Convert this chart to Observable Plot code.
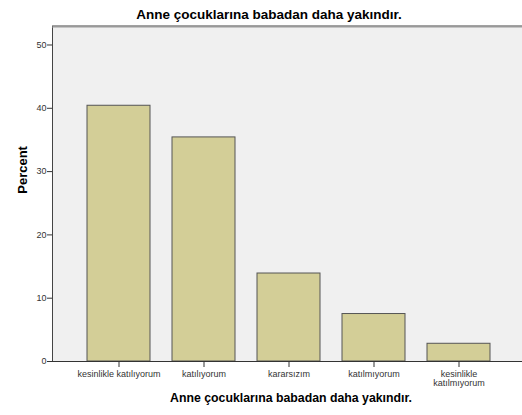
<!DOCTYPE html>
<html>
<head>
<meta charset="utf-8">
<script src="https://cdn.jsdelivr.net/npm/d3@7"></script>
<script src="https://cdn.jsdelivr.net/npm/@observablehq/plot@0.6"></script>
<style>
  body { margin: 0; background: #fff; font-family: Arial, "Liberation Sans", sans-serif; }
  #wrap { position: relative; width: 522px; height: 415px; overflow: hidden; }
  #title { position: absolute; left: 0; top: 0; width: 538px; text-align: center;
           font: bold 13.5px Arial, "Liberation Sans", sans-serif; line-height: 29px; color: #000; z-index: 2; }
  #chart { position: absolute; left: 0; top: 0; }
</style>
</head>
<body>
<div id="wrap">
  <div id="title">Anne çocuklarına babadan daha yakındır.</div>
  <div id="chart"></div>
</div>
<script>
const categories = ["kesinlikle katılıyorum", "katılıyorum", "kararsızım", "katılmıyorum", "kesinlikle katılmıyorum"];
const tickLabels = ["kesinlikle katılıyorum", "katılıyorum", "kararsızım", "katılmıyorum", "kesinlikle\nkatılmıyorum"];
const percents = [40.4, 35.4, 13.9, 7.5, 2.8];
const yTicks = [0, 10, 20, 30, 40, 50];
const titleText = "Anne çocuklarına babadan daha yakındır.";
const yLabel = "Percent";

const data = categories.map((c, i) => ({cat: c, pct: percents[i]}));
const labelOf = new Map(categories.map((c, i) => [c, tickLabels[i]]));

const chart = Plot.plot({
  width: 522,
  height: 415,
  marginLeft: 52,
  marginRight: -2,
  marginTop: 25.5,
  marginBottom: 54,
  style: {fontFamily: "Arial, 'Liberation Sans', sans-serif", background: "transparent", color: "#222"},
  x: {domain: categories, range: [50.5, 527.5], paddingInner: 0.254, paddingOuter: 0.4065, align: 0.5, label: null},
  y: {domain: [0, 53], label: null},
  marks: [
    Plot.frame({fill: "#f0f0f0", stroke: "#444", strokeWidth: 1}),
    Plot.ruleY([53], {stroke: "#999", strokeWidth: 1, dy: 1}),
    Plot.barY(data, {x: "cat", y: "pct", fill: "#d3ce97", stroke: "#555", strokeWidth: 1}),
    Plot.ruleY([0], {stroke: "#333", strokeWidth: 1}),
    Plot.axisY({ticks: yTicks, tickSize: 5, tickPadding: 1, fontSize: 9, label: null, stroke: "#333", fill: "#333"}),
    Plot.axisX({tickSize: 6, tickPadding: 3, fontSize: 9, label: null, tickFormat: d => labelOf.get(d), stroke: "#333", fill: "#333", lineHeight: 1}),
    Plot.text([yLabel], {frameAnchor: "left", text: d => d, rotate: -90, dx: -29.5, fontSize: 13, fontWeight: "bold", fill: "#000"}),
    Plot.text([titleText], {frameAnchor: "bottom", text: d => d, dy: 40, dx: 2.5, fontSize: 12.3, fontWeight: "bold", fill: "#000"})
  ]
});
document.getElementById("chart").appendChild(chart);
</script>
</body>
</html>
